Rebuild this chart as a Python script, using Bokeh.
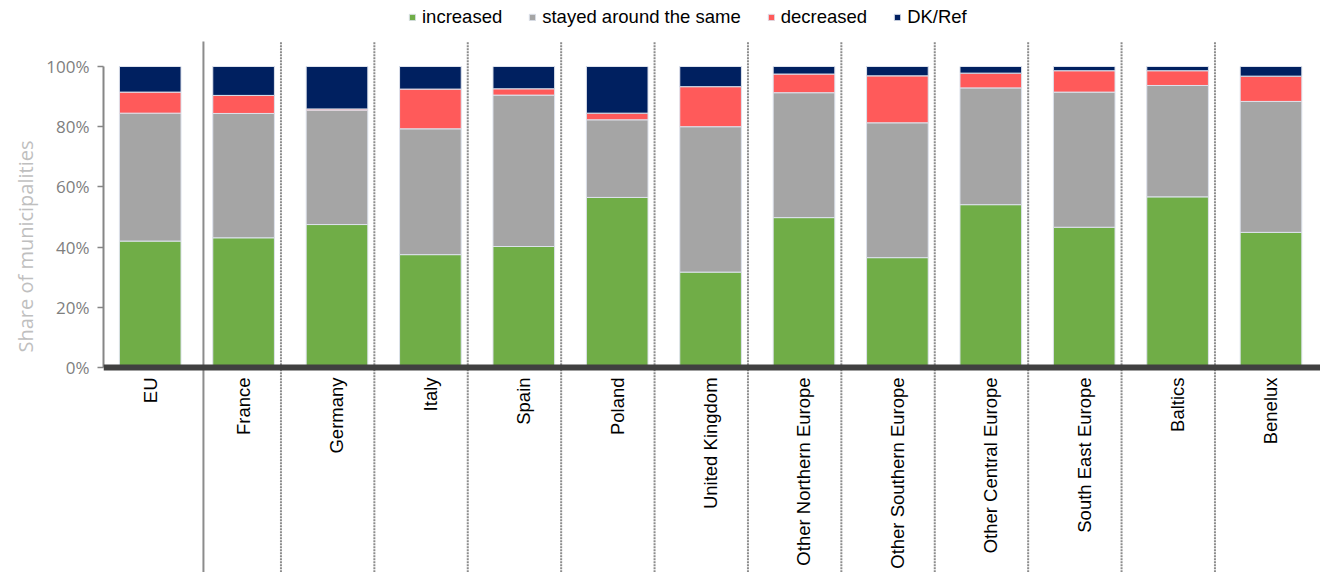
import math
from bokeh.plotting import figure
from bokeh.models import (ColumnDataSource, Range1d, FixedTicker, PrintfTickFormatter,
                          Span, Title)
from bokeh.core.properties import value
from bokeh.embed import file_html
from bokeh.resources import INLINE

# ---- data (shares in %) ----
categories = ["EU", "France", "Germany", "Italy", "Spain", "Poland", "United Kingdom",
              "Other Northern Europe", "Other Southern Europe", "Other Central Europe",
              "South East Europe", "Baltics", "Benelux"]
increased = [42.0, 43.1, 47.5, 37.5, 40.2, 56.5, 31.7, 49.8, 36.5, 54.1, 46.6, 56.7, 44.9]
stayed    = [42.5, 41.3, 38.0, 41.8, 50.3, 25.8, 48.3, 41.5, 44.8, 38.8, 44.9, 37.0, 43.5]
decreased = [7.0, 6.0, 0.4, 13.2, 2.1, 2.2, 13.3, 6.2, 15.6, 4.9, 7.1, 4.9, 8.4]
dk_ref    = [8.5, 9.6, 14.1, 7.5, 7.4, 15.5, 6.7, 2.5, 3.1, 2.2, 1.4, 1.4, 3.2]
series_labels = ["increased", "stayed around the same", "decreased", "DK/Ref"]
y_ticks = [0, 20, 40, 60, 80, 100]

colors = ["#70AD47", "#A5A5A5", "#FF5A5A", "#002060"]
keys = ["increased", "stayed", "decreased", "dk_ref"]

n = len(categories)
xc = [i + 0.5 for i in range(n)]
source = ColumnDataSource(dict(x=xc, cat=categories, increased=increased, stayed=stayed,
                               decreased=decreased, dk_ref=dk_ref))

p = figure(width=1320, height=572, x_range=Range1d(0, 13.03), y_range=Range1d(-68.1, 121.93),
           toolbar_location=None, output_backend="svg", x_axis_location=None,
           min_border_left=103, min_border_right=0, min_border_top=0, min_border_bottom=0)
p.outline_line_color = None
p.xgrid.visible = False
p.ygrid.visible = False

# separators
solid_x = [1.07]
dot_x = [i - 0.1 for i in range(2, n)]
p.segment(x0=solid_x, y0=[-80], x1=solid_x, y1=[108.3], line_color="#8c8c8c", line_width=2)
p.segment(x0=dot_x, y0=[-80] * len(dot_x), x1=dot_x, y1=[108.3] * len(dot_x),
          line_color="#8c8c8c", line_width=2, line_dash="2 1")

renderers = p.vbar_stack(keys, x="x", width=0.66, color=colors, source=source,
                         line_color="#DDE2EC", line_width=1, legend_label=series_labels)

# x axis line
p.add_layout(Span(location=0, dimension="width", line_color="#404040", line_width=6))

# category labels
p.text(x="x", y=-3.3, text="cat", source=source, angle=math.pi / 2, text_align="right",
       text_baseline="middle", text_font=value("Liberation Sans"), text_font_size=value("18.5px"),
       text_color="#000000")

# y axis
ya = p.yaxis[0]
ya.bounds = (0, 100)
ya.ticker = FixedTicker(ticks=y_ticks)
ya.formatter = PrintfTickFormatter(format="%d%%")
ya.axis_line_color = "#868686"
ya.axis_line_width = 2
ya.major_tick_line_color = "#868686"
ya.major_tick_line_width = 1.5
ya.major_tick_in = 0
ya.major_tick_out = 6
ya.minor_tick_line_color = None
ya.major_label_standoff = 8
ya.major_label_text_font = "Open Sans"
ya.major_label_text_font_size = "17px"
ya.major_label_text_color = "#7f7f7f"

p.add_layout(Title(text="Share of municipalities", align="left", offset=220, standoff=10,
                   text_font="Open Sans", text_font_size="20px", text_font_style="normal",
                   text_color="#bfbfbf"), "left")

# legend
lg = p.legend[0]
lg.orientation = "horizontal"
lg.location = (305, 544)
lg.margin = 0
lg.padding = 0
lg.spacing = 26
lg.label_standoff = 6
lg.glyph_width = 8
lg.glyph_height = 8
lg.label_height = 20
lg.label_text_font = "Liberation Sans"
lg.label_text_font_size = "18.5px"
lg.label_text_color = "#000000"
lg.border_line_color = None
lg.background_fill_alpha = 0

open("out.html", "w").write(file_html(p, INLINE))
